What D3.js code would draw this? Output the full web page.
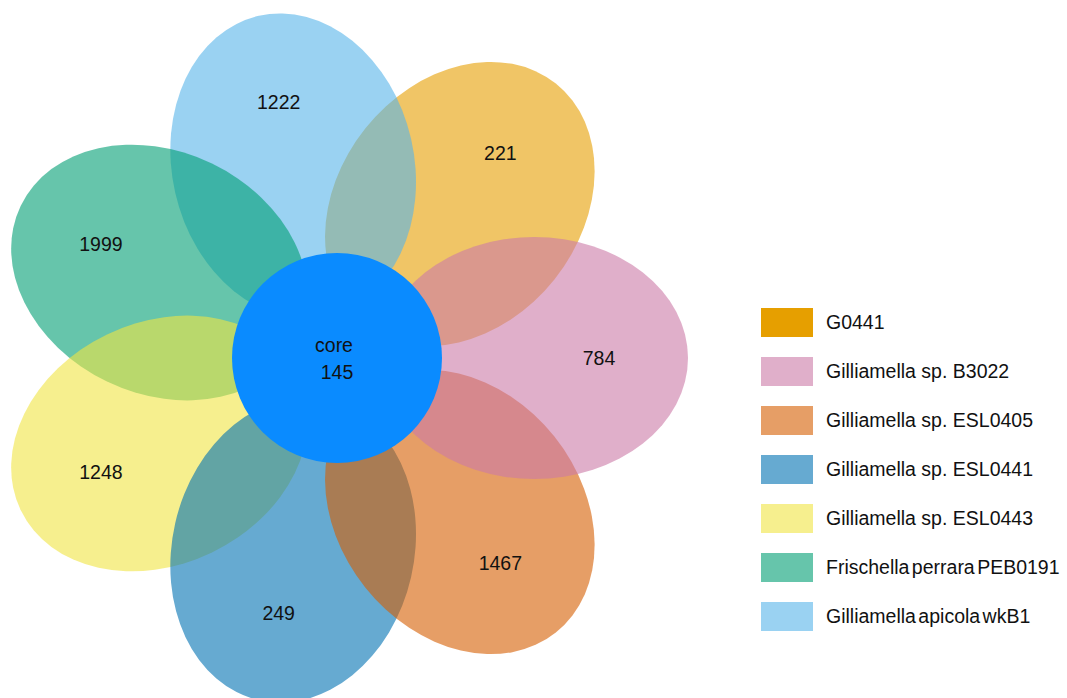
<!DOCTYPE html>
<html>
<head>
<meta charset="utf-8">
<script src="https://cdn.jsdelivr.net/npm/d3@7"></script>
<style>
  html, body { margin: 0; padding: 0; background: #ffffff; }
  svg { display: block; font-family: "Liberation Sans", Arial, sans-serif; }
</style>
</head>
<body>
<svg id="chart" width="1067" height="698"></svg>
<script>
// Genome sets, in legend order
const sets = [
  "G0441",
  "Gilliamella sp. B3022",
  "Gilliamella sp. ESL0405",
  "Gilliamella sp. ESL0441",
  "Gilliamella sp. ESL0443",
  "Frischella perrara PEB0191",
  "Gilliamella apicola wkB1"
];
// Genes unique to each set
const uniqueCounts = [221, 784, 1467, 249, 1248, 1999, 1222];
// Genes shared by all sets
const coreLabel = "core";
const coreCount = 145;
// Petal colours
const petalColors = ["#E69F00", "#CC79A7", "#D55E00", "#0072B2", "#F0E442", "#009E73", "#56B4E9"];
// Order in which petals are painted (later ones sit on top)
const paintOrder = [0, 6, 5, 4, 3, 2, 1];

const svg = d3.select("#chart");
const cx = 337, cy = 358;
const petalOpacity = 0.6;

// Petal i points at angle (i - 1) * 360/7 degrees, B3022 pointing right
const angle = d3.scaleLinear().domain([0, sets.length]).range([0, 360]);
const radial = d3.scaleLinear().domain([0, 1]).range([0, 197]); // centre -> petal centre
const labelDist = 262;

const petals = svg.append("g").attr("class", "petals");
petals.selectAll("ellipse")
  .data(paintOrder)
  .join("ellipse")
  .attr("transform", i => {
    const deg = angle(i - 1);
    const rad = deg * Math.PI / 180;
    const px = cx + radial(1) * Math.cos(rad);
    const py = cy + radial(1) * Math.sin(rad);
    return `translate(${px},${py}) rotate(${deg})`;
  })
  .attr("rx", 154)
  .attr("ry", 121)
  .attr("fill", i => petalColors[i])
  .attr("fill-opacity", petalOpacity);

// Unique counts
svg.append("g").selectAll("text")
  .data(uniqueCounts)
  .join("text")
  .attr("x", (d, i) => cx + labelDist * Math.cos(angle(i - 1) * Math.PI / 180))
  .attr("y", (d, i) => cy + labelDist * Math.sin(angle(i - 1) * Math.PI / 180))
  .attr("dy", "0.35em")
  .attr("text-anchor", "middle")
  .attr("font-size", 19.5)
  .attr("fill", "#111")
  .text(d => d);

// Core circle
svg.append("circle")
  .attr("cx", cx).attr("cy", cy).attr("r", 105)
  .attr("fill", "#0a8bff");

svg.append("text")
  .attr("x", cx - 3).attr("y", 352)
  .attr("text-anchor", "middle")
  .attr("font-size", 19.5)
  .attr("fill", "#111")
  .text(coreLabel);
svg.append("text")
  .attr("x", cx).attr("y", 379)
  .attr("text-anchor", "middle")
  .attr("font-size", 19.5)
  .attr("fill", "#111")
  .text(coreCount);

// Legend: rows 49px apart, swatches 29px tall
const legendY = d3.scaleBand()
  .domain(sets)
  .range([308, 631])
  .paddingInner(20 / 49)
  .paddingOuter(0);

const legendRows = svg.append("g").selectAll("g")
  .data(sets)
  .join("g")
  .attr("transform", d => `translate(761,${legendY(d)})`);

legendRows.append("rect")
  .attr("width", 52)
  .attr("height", legendY.bandwidth())
  .attr("fill", (d, i) => petalColors[i])
  .attr("fill-opacity", (d, i) => i === 0 ? 1 : petalOpacity);

legendRows.append("text")
  .attr("x", 65)
  .attr("y", legendY.bandwidth() / 2 + 6.5)
  .attr("font-size", 19.5)
  .attr("fill", "#111")
  .attr("word-spacing", (d, i) => i >= 5 ? -3 : 0)
  .text(d => d);
</script>
</body>
</html>
